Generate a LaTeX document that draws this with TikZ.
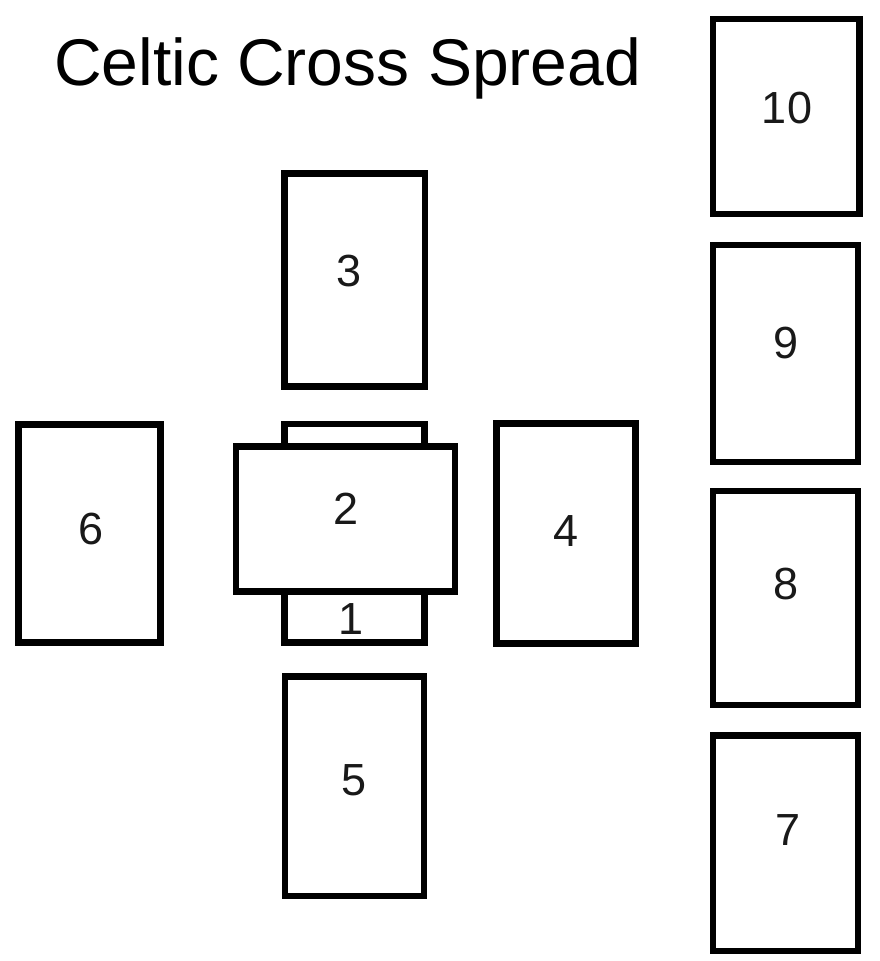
\documentclass[tikz,border=0pt]{standalone}
\usepackage{fontspec}
\setmainfont{Liberation Sans}
\begin{document}
\begin{tikzpicture}[x=1pt,y=-1pt,
  card/.style={draw=black,line width=6.5pt,rectangle,inner sep=0pt,outer sep=0pt,line join=miter},
  num/.style={inner sep=0pt,font=\fontsize{45}{45}\selectfont,text=black!90},
  title/.style={inner sep=0pt,font=\fontsize{66}{66}\selectfont,text=black}]
\useasboundingbox[fill=white] (0,0) rectangle (880,961);
\node[title,anchor=base] (t) at (347.5,85) {Celtic Cross Spread};
% cards
\node[card,minimum width=140pt,minimum height=218.5pt] (c1) at (354.5,533.25) {};
\node[card,fill=white,minimum width=219pt,minimum height=145pt] (c2) at (345.5,519) {};
\node[card,minimum width=140.5pt,minimum height=213pt] (c3) at (354.75,280) {};
\node[card,minimum width=139pt,minimum height=220pt] (c4) at (566,533.5) {};
\node[card,minimum width=139pt,minimum height=219.5pt] (c5) at (354.5,786) {};
\node[card,minimum width=142pt,minimum height=218pt] (c6) at (89.5,533.5) {};
\node[card,minimum width=145pt,minimum height=215.5pt] (c7) at (785.5,843.25) {};
\node[card,minimum width=145pt,minimum height=214pt] (c8) at (785.5,598) {};
\node[card,minimum width=145pt,minimum height=217pt] (c9) at (785.5,353.5) {};
\node[card,minimum width=146.5pt,minimum height=195pt] (c10) at (786,116.5) {};
% numbers
\node[num] (n1) at (351,619) {1};
\node[num] (n2) at (346.5,509) {2};
\node[num] (n3) at (349,271) {3};
\node[num] (n4) at (566,531.5) {4};
\node[num] (n5) at (354,780.5) {5};
\node[num] (n6) at (91,529.5) {6};
\node[num] (n7) at (788,830) {7};
\node[num] (n8) at (786,584) {8};
\node[num] (n9) at (786,343) {9};
\node[num] (n10) at (787,108) {10};
\end{tikzpicture}
\end{document}
